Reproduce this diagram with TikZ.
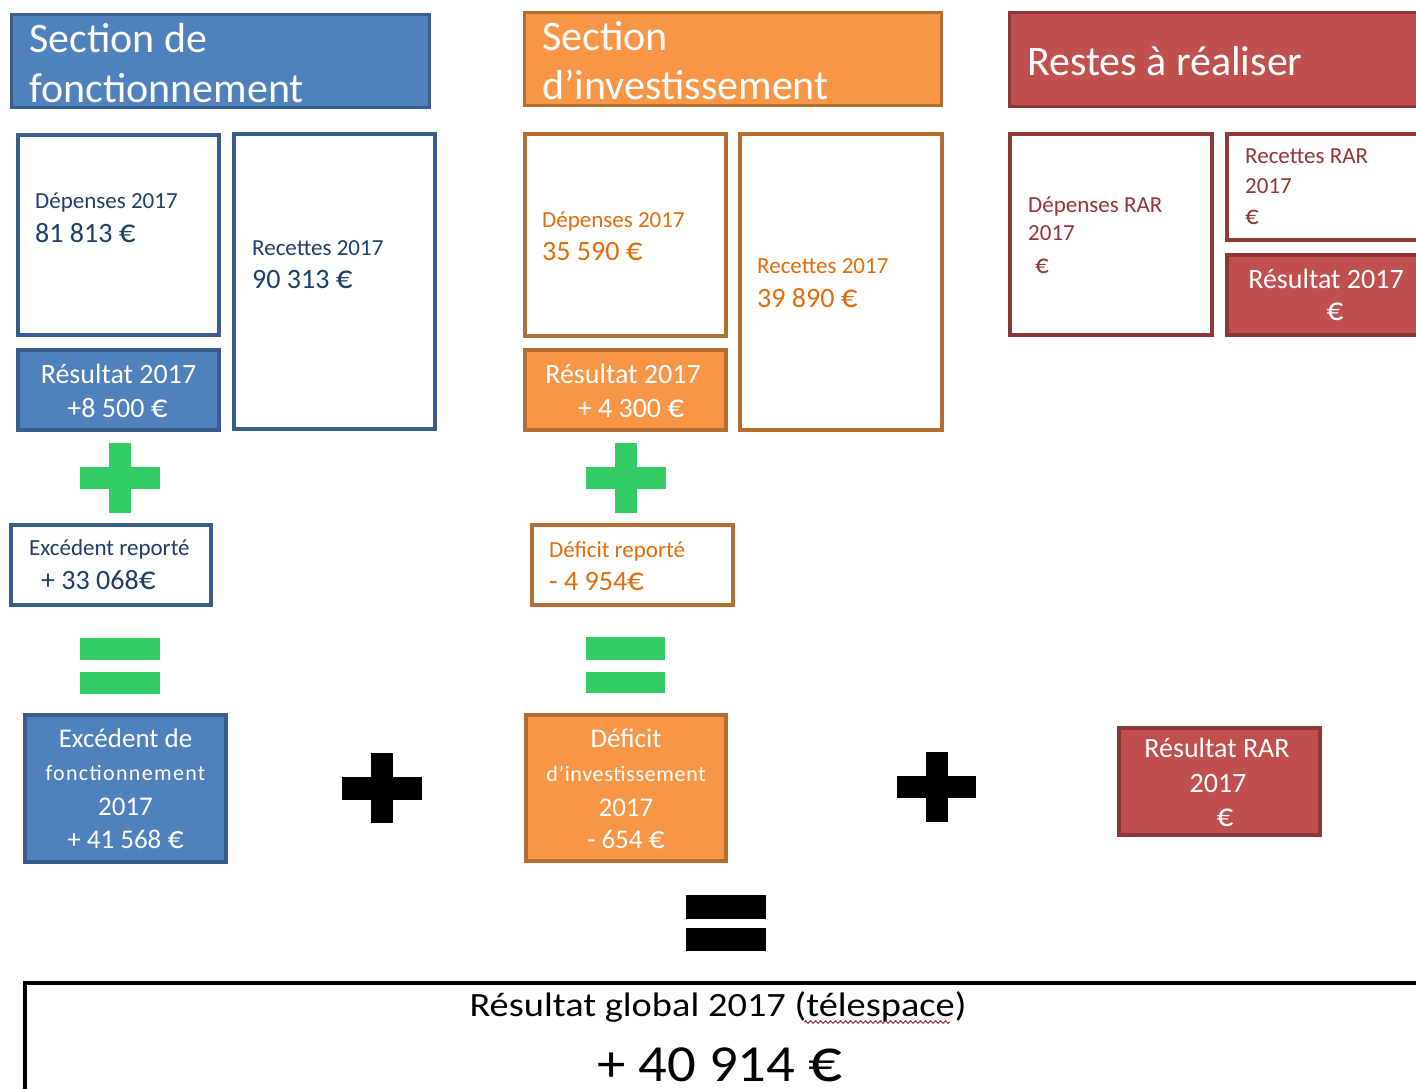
\documentclass[tikz,border=0pt]{standalone}
\usepackage{fontspec}
\setmainfont{Carlito}
\usepackage{graphicx}
\usetikzlibrary{fit,decorations.pathmorphing}
\definecolor{bfill}{HTML}{4F81BD}
\definecolor{bline}{HTML}{385D8A}
\definecolor{btext}{HTML}{1F3F6A}
\definecolor{ofill}{HTML}{F79646}
\definecolor{oline}{HTML}{B66D31}
\definecolor{otext}{HTML}{E46C0A}
\definecolor{rfill}{HTML}{C0504D}
\definecolor{rline}{HTML}{8C3836}
\definecolor{rtext}{HTML}{943634}
\definecolor{gsign}{RGB}{51,204,102}
\newcommand\myfs[1]{\fontsize{#1}{#1}\selectfont}
\newcommand\eur{\scalebox{1.18}{€}}
\begin{document}
\begin{tikzpicture}[x=1pt,y=-1pt,
  every node/.style={inner sep=0pt},
  hdr/.style={line width=3pt},
  wbox/.style={line width=4pt, fill=white},
  sbox/.style={line width=4pt},
  blu/.style={draw=bline, fill=bfill},
  blw/.style={draw=bline},
  org/.style={draw=oline, fill=ofill},
  orw/.style={draw=oline},
  red/.style={draw=rline, fill=rfill},
  rdw/.style={draw=rline},
  lbl/.style={anchor=base west},
  ctr/.style={anchor=base},
  htxt/.style={font=\myfs{42}, text=white},
  smallt/.style={font=\myfs{23}},
  bigt/.style={font=\myfs{28}}
]
\useasboundingbox (0,0) rectangle (1416,1088);
\clip (0,0) rectangle (1416,1088);

% ---------------- Section de fonctionnement (blue) ----------------
\node[hdr, blu, fit={(11.5,14.5) (429.5,107.5)}] (hdrB) {};
\node[lbl, htxt] (hdrB1) at (29,52) {Section de};
\node[lbl, htxt] (hdrB2) at (29,102) {fonctionnement};

\node[wbox, blw, fit={(18,135) (219,335)}] (depB) {};
\node[lbl, smallt, text=btext] (depB1) at (35,208) {Dépenses 2017};
\node[lbl, bigt, text=btext] (depB2) at (35,242) {81 813 \eur};

\node[wbox, blw, fit={(234,134) (435,429)}] (recB) {};
\node[lbl, smallt, text=btext] (recB1) at (252,255) {Recettes 2017};
\node[lbl, bigt, text=btext] (recB2) at (252,288) {90 313 \eur};

\node[sbox, blu, fit={(18,350) (219,430)}] (resB) {};
\node[ctr, bigt, text=white] (resB1) at (118.5,383) {Résultat 2017};
\node[ctr, bigt, text=white] (resB2) at (117.5,417) {+8 500 \eur};

\fill[gsign] (80,467) rectangle (160,489);
\fill[gsign] (109,443) rectangle (131,513);

\node[wbox, blw, fit={(11,525) (211,605)}] (excB) {};
\node[lbl, smallt, text=btext] (excB1) at (29,555) {Excédent reporté};
\node[lbl, bigt, text=btext] (excB2) at (41,589) {+ 33 068\eur};

\fill[gsign] (80,638) rectangle (160,660);
\fill[gsign] (80,672) rectangle (160,694);

\node[sbox, blu, fit={(25,715) (226,862)}] (totB) {};
\node[ctr, font=\myfs{27}, text=white] (totB1) at (125.5,747) {Excédent de};
\node[ctr, font=\myfs{22}\addfontfeatures{LetterSpace=6}, text=white] (totB2) at (125.5,780) {fonctionnement};
\node[ctr, font=\myfs{27}, text=white] (totB3) at (125.5,815) {2017};
\node[ctr, font=\myfs{27}, text=white] (totB4) at (125.5,848) {+ 41 568 \eur};

\fill[black] (342,777) rectangle (422,800);
\fill[black] (371,753) rectangle (393,823);

% ---------------- Section d'investissement (orange) ----------------
\node[hdr, org, fit={(524.5,12.5) (941.5,105.5)}] (hdrO) {};
\node[lbl, htxt] (hdrO1) at (542,50) {Section};
\node[lbl, htxt] (hdrO2) at (542,99) {d’investissement};

\node[wbox, orw, fit={(525,134) (726,336)}] (depO) {};
\node[lbl, smallt, text=otext] (depO1) at (542,227) {Dépenses 2017};
\node[lbl, bigt, text=otext] (depO2) at (542,260) {35 590 \eur};

\node[wbox, orw, fit={(740,134) (942,430)}] (recO) {};
\node[lbl, smallt, text=otext] (recO1) at (757,273) {Recettes 2017};
\node[lbl, bigt, text=otext] (recO2) at (757,307) {39 890 \eur};

\node[sbox, org, fit={(525,350) (726,430)}] (resO) {};
\node[ctr, bigt, text=white] (resO1) at (623,383) {Résultat 2017};
\node[ctr, bigt, text=white] (resO2) at (631,417) {+ 4 300 \eur};

\fill[gsign] (586,467) rectangle (666,489);
\fill[gsign] (615,443) rectangle (637,513);

\node[wbox, orw, fit={(532,525) (733,605)}] (defO) {};
\node[lbl, smallt, text=otext] (defO1) at (549,557) {Déficit reporté};
\node[lbl, bigt, text=otext] (defO2) at (549,590) {- 4 954\eur};

\fill[gsign] (586,637) rectangle (665,660);
\fill[gsign] (586,672) rectangle (665,693);

\node[sbox, org, fit={(526,715) (726,861)}] (totO) {};
\node[ctr, font=\myfs{27}, text=white] (totO1) at (626,747) {Déficit};
\node[ctr, font=\myfs{22}\addfontfeatures{LetterSpace=3}, text=white] (totO2) at (626,781) {d’investissement};
\node[ctr, font=\myfs{27}, text=white] (totO3) at (626,816) {2017};
\node[ctr, font=\myfs{27}, text=white] (totO4) at (626,848) {- 654 \eur};

\fill[black] (897,776) rectangle (976,798);
\fill[black] (926,752) rectangle (948,822);

% ---------------- Restes à réaliser (red) ----------------
\node[hdr, red, fit={(1009.5,12.5) (1440,106.5)}] (hdrR) {};
\node[lbl, htxt] (hdrR1) at (1027,75) {Restes à réaliser};

\node[wbox, rdw, fit={(1010,134) (1212,335)}] (depR) {};
\node[lbl, smallt, text=rtext] (depR1) at (1028,212) {Dépenses RAR};
\node[lbl, smallt, text=rtext] (depR2) at (1028,240) {2017};
\node[lbl, smallt, text=rtext] (depR3) at (1035,273) {\eur};

\node[wbox, rdw, fit={(1227,134) (1440,240)}] (recR) {};
\node[lbl, smallt, text=rtext] (recR1) at (1245,163) {Recettes RAR};
\node[lbl, smallt, text=rtext] (recR2) at (1245,193) {2017};
\node[lbl, smallt, text=rtext] (recR3) at (1245,224) {\eur};

\node[sbox, red, fit={(1227,255) (1440,335)}] (resR) {};
\node[ctr, bigt, text=white] (resR1) at (1326,288) {Résultat 2017};
\node[ctr, bigt, text=white] (resR2) at (1335,320) {\eur};

\node[sbox, red, fit={(1119,728) (1320,835)}] (rarR) {};
\node[ctr, bigt, text=white] (rarR1) at (1217,757) {Résultat RAR};
\node[ctr, bigt, text=white] (rarR2) at (1218,792) {2017};
\node[ctr, bigt, text=white] (rarR3) at (1225,826) {\eur};

% ---------------- Global result ----------------
\fill[black] (686,895) rectangle (766,919);
\fill[black] (686,928) rectangle (766,951);

\node[line width=4pt, draw=black, fill=white, fit={(25,983) (1440,1110)}] (glob) {};
\node[ctr, font=\myfs{34}] (glob1) at (718,1016) {\scalebox{1.13}[1]{Résultat global 2017 (télespace)}};
\node[ctr, font=\myfs{52}] (glob2) at (720,1081) {\scalebox{1.09}[1]{+ 40 914 \eur}};
\draw[red, line width=0.9pt, decorate, decoration={snake, amplitude=1.4pt, segment length=5pt}] (804,1022) -- (950,1022);
\end{tikzpicture}
\end{document}
